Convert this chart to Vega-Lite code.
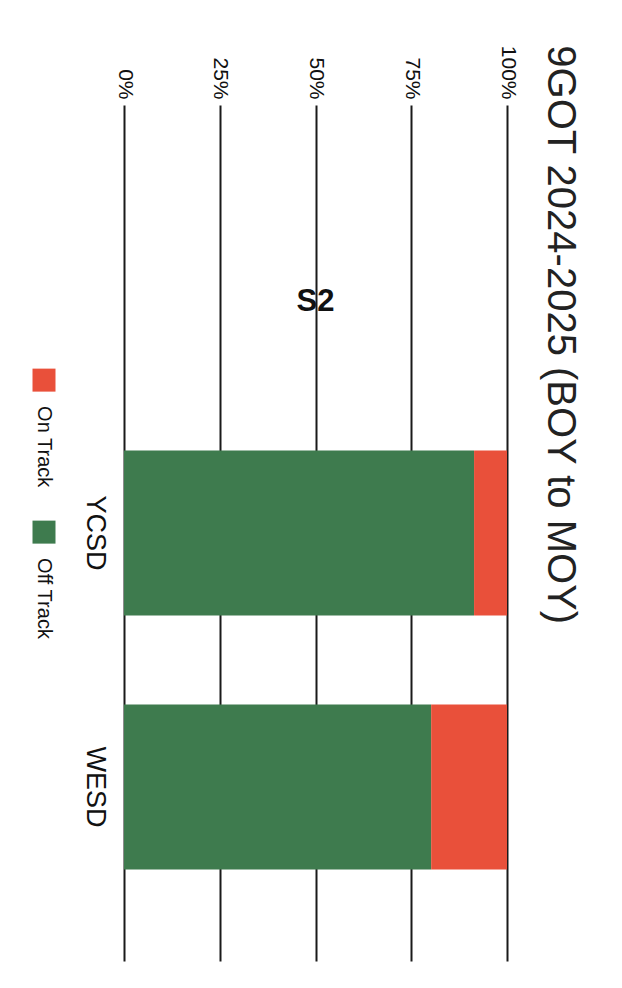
{
  "$schema": "https://vega.github.io/schema/vega-lite/v6.json",
  "background": "white",
  "padding": {"left": 20, "top": 45, "right": 10, "bottom": 5},
  "title": {
    "text": "9GOT 2024-2025 (BOY to MOY)",
    "orient": "right",
    "anchor": "start",
    "fontSize": 40,
    "font": "Liberation Sans",
    "fontWeight": "normal",
    "color": "#222222",
    "offset": 22
  },
  "datasets": {
    "bars": [
      {"district": "YCSD", "status": "Off Track", "pct": 91.4},
      {"district": "YCSD", "status": "On Track", "pct": 8.6},
      {"district": "WESD", "status": "Off Track", "pct": 80.2},
      {"district": "WESD", "status": "On Track", "pct": 19.8}
    ],
    "legendItems": [
      {"status": "On Track"},
      {"status": "Off Track"}
    ],
    "notes": [
      {"district": "S2", "pct": 50, "label": "S2"}
    ]
  },
  "spacing": 13,
  "hconcat": [
    {
      "width": 48,
      "height": 456,
      "data": {"name": "legendItems"},
      "layer": [
        {
          "mark": {"type": "point", "shape": "square", "filled": true, "size": 529, "opacity": 1},
          "encoding": {
            "y": {"field": "status", "type": "nominal", "scale": {"type": "point", "domain": ["On Track", "Off Track"], "padding": 1, "align": 0.905}, "axis": null},
            "color": {"field": "status", "type": "nominal", "scale": {"domain": ["On Track", "Off Track"], "range": ["#E9503A", "#3E7B4E"]}, "legend": null}
          }
        },
        {
          "mark": {"type": "text", "angle": 90, "align": "left", "baseline": "middle", "dx": 26, "font": "Liberation Sans Narrow, Arial Narrow, Liberation Sans", "fontSize": 20, "color": "#111111"},
          "encoding": {
            "y": {"field": "status", "type": "nominal", "scale": {"type": "point", "domain": ["On Track", "Off Track"], "padding": 1, "align": 0.905}, "axis": null},
            "text": {"field": "status"}
          }
        }
      ]
    },
    {
      "width": 383,
      "height": 856,
      "layer": [
        {
          "data": {"name": "bars"},
          "mark": {"type": "bar"},
          "encoding": {
            "x": {
              "field": "pct", "type": "quantitative", "stack": "zero",
              "scale": {"domain": [0, 100], "nice": false},
              "axis": {
                "orient": "top", "values": [0, 25, 50, 75, 100],
                "labelExpr": "datum.value + '%'",
                "labelAngle": 90, "labelAlign": "right", "labelBaseline": "middle",
                "labelPadding": 6, "ticks": false, "domain": false,
                "grid": true, "gridColor": "#1a1a1a", "gridWidth": 2, "gridOpacity": 1,
                "labelFont": "Liberation Sans Narrow, Arial Narrow, Liberation Sans",
                "labelFontSize": 21, "labelColor": "#111111", "title": null
              }
            },
            "y": {
              "field": "district", "type": "nominal",
              "scale": {"domain": ["S2", "YCSD", "WESD"], "paddingInner": 0.35, "paddingOuter": 0.36},
              "axis": {
                "orient": "left", "labelExpr": "datum.value == 'S2' ? '' : datum.value",
                "labelAngle": 90, "labelAlign": "center", "labelBaseline": "top",
                "labelPadding": 17, "ticks": false, "domain": false, "grid": false,
                "labelFont": "Liberation Sans", "labelFontSize": 27, "labelColor": "#111111", "title": null
              }
            },
            "color": {"field": "status", "type": "nominal", "scale": {"domain": ["On Track", "Off Track"], "range": ["#E9503A", "#3E7B4E"]}, "legend": null},
            "order": {"field": "status", "sort": "ascending"}
          }
        },
        {
          "data": {"name": "notes"},
          "mark": {"type": "text", "font": "Liberation Sans Narrow, Arial Narrow, Liberation Sans", "fontWeight": "bold", "fontSize": 31, "dy": 23, "color": "#111111", "baseline": "middle", "align": "center"},
          "encoding": {
            "x": {"field": "pct", "type": "quantitative"},
            "y": {"field": "district", "type": "nominal"},
            "text": {"field": "label"}
          }
        }
      ]
    }
  ],
  "config": {
    "view": {"stroke": null}
  }
}
